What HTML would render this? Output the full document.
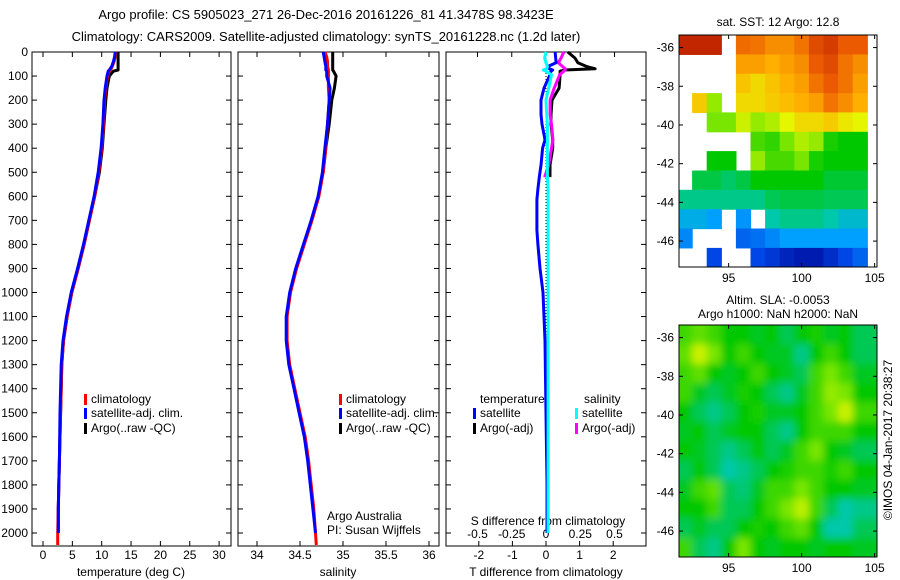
<!DOCTYPE html>
<html><head><meta charset="utf-8"><style>
body{margin:0;background:#fff}
svg{display:block;font-family:"Liberation Sans",sans-serif;font-size:12px}
</style></head><body>
<svg id="c" width="900" height="580" viewBox="0 0 900 580">
<text x="326" y="19" text-anchor="middle" font-size="13">Argo profile: CS 5905023_271 26-Dec-2016 20161226_81 41.3478S 98.3423E</text>
<text x="326" y="41" text-anchor="middle" font-size="13">Climatology: CARS2009. Satellite-adjusted climatology: synTS_20161228.nc (1.2d later)</text>
<g id="g"></g>
</svg>
<script>
// ---- profile data ----
const depths=[0,20,40,60,75,80,100,150,200,300,400,500,600,700,800,900,1000,1100,1200,1300,1400,1500,1600,1700,1800,1900,2000,2050];
const tempClim=[12.4,12.3,12.1,11.8,11.5,11.3,11.0,10.7,10.5,10.3,10.0,9.5,8.8,7.9,7.0,6.0,4.9,4.1,3.5,3.2,3.1,3.0,2.9,2.8,2.7,2.6,2.5,2.5];
const tempSat=[12.3,12.2,12.0,11.7,11.3,11.1,10.9,10.6,10.4,10.2,9.9,9.4,8.7,7.8,6.9,5.9,4.8,4.0,3.4,3.1,3.0,2.9,2.85,2.8,2.7,2.6,2.6,null];
const tempArgo=[12.8,12.8,12.8,12.8,12.8,12.0,11.3,10.9,10.7,10.4,10.1,9.6,8.8,7.9,7.0,6.0,4.9,4.1,3.5,3.2,3.1,3.0,2.9,2.8,2.7,2.6,2.6,null];
const salClim=[34.79,34.81,34.82,34.82,34.83,34.83,34.83,34.83,34.84,34.82,34.8,34.77,34.72,34.64,34.55,34.46,34.39,34.35,34.35,34.38,34.44,34.5,34.56,34.6,34.63,34.66,34.68,34.69];
const salSat=[34.77,34.78,34.79,34.8,34.8,34.81,34.81,34.85,34.84,34.82,34.79,34.76,34.71,34.63,34.54,34.45,34.38,34.34,34.34,34.37,34.43,34.49,34.55,34.59,34.62,34.65,34.68,null];
const salArgo=[34.88,34.88,34.88,34.88,34.88,34.89,34.92,34.9,34.87,34.84,34.8,34.77,null,null,null,null,null,null,null,null,null,null,null,null,null,null,null,null];
const diffDepths=[0,25,45,60,70,75,80,95,150,200,260,300,365,400,470,520,570,614,740,800,900,1000,1200,1500,1800,2000];
const tDiffSat=[0.27,0.29,0.3,0.06,0.1,0.2,0.15,0.12,-0.06,-0.15,-0.15,-0.12,-0.03,-0.1,-0.15,-0.2,-0.24,-0.27,-0.27,-0.24,-0.18,-0.09,-0.03,0,0.03,0.03];
const sDiffSat=[0,-0.01,0,0.01,0.005,-0.02,0,0.04,0.02,0,0.005,0.01,0.01,0.01,0.01,0.01,0.015,0.015,0.015,0.015,0.015,0.015,0.015,0.015,0.015,0.015];
const tDiffArgo=[0.65,0.86,0.95,1.2,1.46,0.55,0.42,0.42,0.39,0.18,0.15,0.15,0.2,0.2,0.12,0.12,null,null,null,null,null,null,null,null,null,null];
const sDiffArgo=[0.13,0.11,0.09,0.12,0.14,0.14,0.13,0.1,0.06,0.03,0.03,0.04,0.05,0.04,0.02,-0.01,null,null,null,null,null,null,null,null,null,null];
const depthTicks=[0,100,200,300,400,500,600,700,800,900,1000,1100,1200,1300,1400,1500,1600,1700,1800,1900,2000];
const tempTicks=[0,5,10,15,20,25,30];
const salTicks=[34,34.5,35,35.5,36];
const tDiffTicks=[-2,-1,0,1,2];
const sDiffTicks=[-0.5,-0.25,0,0.25,0.5];
const sDiffTickLabels=["-0.5","-0.25","0","0.25","0.5"];
// ---- map data (normalised colour values, null = missing) ----
const latTicks=[-36,-38,-40,-42,-44,-46];
const lonTicks=[95,100,105];
const sstGrid=[
[0.95,0.95,0.95,null,0.86,0.85,0.82,0.82,0.85,0.9,0.92,0.88,0.88],
[null,null,null,null,0.8,0.8,0.78,0.8,0.82,0.88,0.9,0.85,0.82],
[null,null,null,null,0.75,0.72,0.75,0.78,0.8,0.85,0.88,0.85,0.8],
[null,0.74,0.62,null,0.72,0.72,0.74,0.76,0.78,0.8,0.85,0.82,0.78],
[null,null,0.6,0.6,0.66,0.62,0.64,0.68,0.72,0.72,0.74,0.7,0.68],
[null,null,null,null,null,0.56,0.54,0.6,0.64,0.62,0.52,0.5,0.5],
[null,null,0.5,0.5,null,0.62,0.56,0.56,0.6,0.52,0.5,0.5,0.5],
[null,0.46,0.46,0.44,0.46,0.5,0.5,0.5,0.5,0.5,0.47,0.47,0.47],
[0.42,0.42,0.42,0.42,0.42,0.42,0.45,0.46,0.46,0.46,0.45,0.45,0.45],
[0.33,0.33,0.3,null,0.28,null,0.4,0.42,0.42,0.42,0.4,0.36,0.36],
[0.26,null,null,null,0.2,0.22,0.26,0.3,0.3,0.3,0.3,0.3,0.3],
[null,null,0.15,null,null,0.15,0.12,0.08,0.06,0.06,0.1,0.15,0.2]];
const slaGrid=[
[.55,.58,.55,.5,.5,.48,.5,.45,.5,.52,.48,.5,.45],
[.58,.66,.6,.5,.55,.5,.48,.48,.42,.5,.55,.5,.45],
[.55,.58,.5,.48,.5,.55,.5,.48,.45,.55,.6,.55,.48],
[.55,.48,.45,.48,.52,.5,.45,.42,.48,.55,.62,.6,.5],
[.5,.45,.42,.45,.5,.52,.48,.48,.5,.55,.6,.66,.55],
[.48,.5,.45,.48,.5,.5,.45,.42,.5,.55,.55,.55,.5],
[.5,.48,.45,.42,.45,.5,.45,.48,.55,.6,.5,.48,.45],
[.45,.5,.45,.4,.42,.45,.5,.52,.55,.55,.52,.55,.5],
[.48,.55,.58,.45,.43,.48,.55,.55,.6,.55,.5,.5,.48],
[.5,.5,.55,.45,.45,.5,.55,.6,.65,.55,.45,.4,.42],
[.45,.48,.45,.45,.5,.52,.5,.55,.58,.5,.4,.4,.45],
[.55,.45,.42,.5,.6,.5,.48,.5,.5,.48,.5,.5,.48]];

const NS='http://www.w3.org/2000/svg';
const G=document.getElementById('g');
function mk(tag,attrs,parent){const e=document.createElementNS(NS,tag);for(const k in attrs)e.setAttribute(k,attrs[k]);(parent||G).appendChild(e);return e;}
function txt(x,y,s,anchor,parent){const t=mk('text',{x:x,y:y,'text-anchor':anchor||'start'},parent);t.textContent=s;return t;}
const yD=d=>52+d*0.2405;
const PY0=52,PY1=546;
const panels=[{x0:32,x1:231},{x0:238,x1:439},{x0:446,x1:646}];
const xT=v=>43+v*5.87;
const xS=v=>257+(v-34)*86;
const xTd=v=>546+v*33.6;
const xSd=v=>546+v*137;

panels.forEach((p,i)=>{
  const r=mk('rect',{x:p.x0,y:PY0,width:p.x1-p.x0,height:PY1-PY0,fill:'none',stroke:'#000','stroke-width':1});
  
  
  depthTicks.forEach(d=>{mk('line',{x1:p.x0,x2:p.x0+5,y1:yD(d),y2:yD(d),stroke:'#000'});mk('line',{x1:p.x1,x2:p.x1-5,y1:yD(d),y2:yD(d),stroke:'#000'});});
});
depthTicks.forEach(d=>{const t=txt(28,yD(d)+4,String(d),'end');
  
  });
function xticks(vals,labels,fx,yb,top,labelY){vals.forEach((v,i)=>{const x=fx(v);
  mk('line',{x1:x,x2:x,y1:yb,y2:yb-5,stroke:'#000'});
  if(top)mk('line',{x1:x,x2:x,y1:PY0,y2:PY0+5,stroke:'#000'});
  const t=txt(x,labelY,labels[i],'middle');
  
  });}
xticks(tempTicks,tempTicks.map(String),xT,PY1,true,559);
xticks(salTicks,salTicks.map(String),xS,PY1,true,559);
xticks(tDiffTicks,tDiffTicks.map(String),xTd,PY1,false,559);
sDiffTicks.forEach((v,i)=>{const x=xSd(v);mk('line',{x1:x,x2:x,y1:PY0,y2:PY0+5,stroke:'#000'});
  const t=txt(x,538,sDiffTickLabels[i],'middle');
  
  });
[['temperature (deg C)',131],['salinity',338],['T difference from climatology',546]].forEach(a=>{const t=txt(a[1],576,a[0],'middle');
  
  });
const st=txt(548,525,'S difference from climatology','middle');


mk('line',{x1:546,x2:546,y1:PY0,y2:yD(2000),stroke:'#000','stroke-dasharray':'1 2'});

function series(vals,ys,fx,color,name,w){let d='',pen=false;
  vals.forEach((v,i)=>{if(v===null){pen=false;return;}d+=(pen?'L':'M')+fx(v).toFixed(1)+' '+yD(ys[i]).toFixed(1);pen=true;});
  const p=mk('path',{d:d,fill:'none',stroke:color,'stroke-width':w||3,'stroke-linejoin':'round'});
  
  }
series(tempArgo,depths,xT,'#000','temp-argo-line');
series(tempClim,depths,xT,'#f00','temp-climatology-line');
series(tempSat,depths,xT,'#00f','temp-satellite-line');
series(salArgo,depths,xS,'#000','sal-argo-line');
series(salClim,depths,xS,'#f00','sal-climatology-line');
series(salSat,depths,xS,'#00f','sal-satellite-line');
series(tDiffArgo,diffDepths,xTd,'#000','t-diff-argo-line');
series(sDiffArgo,diffDepths,xSd,'#f0f','s-diff-argo-line');
series(tDiffSat,diffDepths,xTd,'#00f','t-diff-satellite-line');
series(sDiffSat,diffDepths,xSd,'#0ff','s-diff-satellite-line');

function legend(x,y,color,label){mk('rect',{x:x,y:y-9,width:3,height:11,fill:color});
  const t=txt(x+7,y,label);
  
  }
[[84,'#f00','climatology',403],[84,'#00f','satellite-adj. clim.',417],[84,'#000','Argo(..raw -QC)',432],
 [339,'#f00','climatology',403],[339,'#00f','satellite-adj. clim.',417],[339,'#000','Argo(..raw -QC)',432],
 [473,'#00f','satellite',417],[473,'#000','Argo(-adj)',432],[575,'#0ff','satellite',417],[575,'#f0f','Argo(-adj)',432]]
 .forEach(a=>legend(a[0],a[3],a[1],a[2]));
[['temperature',480,403],['salinity',584,403],['Argo Australia',327,520],['PI: Susan Wijffels',327,534]].forEach(a=>{const t=txt(a[1],a[2],a[0]);
  
  });

// ---- maps ----
const cmapStops=[[0,[0,0,140]],[0.15,[0,70,230]],[0.3,[0,160,255]],[0.4,[0,200,170]],[0.5,[0,200,0]],[0.6,[120,230,0]],[0.68,[230,245,0]],[0.78,[255,175,0]],[0.88,[235,90,0]],[1,[165,0,0]]];
function cmap(v){for(let i=1;i<cmapStops.length;i++){const a=cmapStops[i-1],b=cmapStops[i];
  if(v<=b[0]){const t=(v-a[0])/(b[0]-a[0]);return 'rgb('+a[1].map((c,k)=>Math.round(c+(b[1][k]-c)*t)).join(',')+')';}}
  return 'rgb(165,0,0)';}
const MX0=679,MX1=877,LON0=91.6,PXLON=14.6,PXLAT=19.35;
function drawMap(grid,y0,name,blur,title1,title2){
  const latTop=-35.35;
  const yL=lat=>y0+(latTop-lat)*PXLAT;
  const xL=lon=>MX0+(lon-LON0)*PXLON;
  const y1=y0+232;
  const cid='clip'+name;
  const cp=mk('clipPath',{id:cid});mk('rect',{x:MX0,y:y0,width:MX1-MX0,height:y1-y0},cp);
  const g=mk('g',{'clip-path':'url(#'+cid+')'});
  
  
  const inner=mk('g',blur?{filter:'url(#blur)'}:{},g);
  if(blur)mk('rect',{x:MX0-20,y:y0-20,width:MX1-MX0+40,height:y1-y0+40,fill:cmap(0.5)},inner);
  grid.forEach((row,ri)=>row.forEach((v,ci)=>{if(v===null)return;
    let x=xL(91.5+ci),y=yL(latTop-ri),w=PXLON+0.6,h=PXLAT+0.6;
    if(blur){if(ci===0){x-=15;w+=15;}if(ci===row.length-1)w+=15;if(ri===0){y-=15;h+=15;}if(ri===grid.length-1)h+=15;}
    mk('rect',{x:x.toFixed(1),y:y.toFixed(1),width:w,height:h,fill:cmap(v)},inner);}));
  mk('rect',{x:MX0,y:y0,width:MX1-MX0,height:y1-y0,fill:'none',stroke:'#000'});
  latTicks.forEach(l=>{const y=yL(l);mk('line',{x1:MX0,x2:MX0+4,y1:y,y2:y,stroke:'#000'});mk('line',{x1:MX1,x2:MX1-4,y1:y,y2:y,stroke:'#000'});
    const t=txt(MX0-5,y+4,String(l),'end');
    
    });
  lonTicks.forEach(l=>{const x=xL(l);mk('line',{x1:x,x2:x,y1:y1,y2:y1-4,stroke:'#000'});mk('line',{x1:x,x2:x,y1:y0,y2:y0+4,stroke:'#000'});
    const t=txt(x,y1+15,String(l),'middle');
    
    });
  const t1=txt(778,title2?y0-21:y0-9,title1,'middle');
  
  
  if(title2){const t2=txt(778,y0-7,title2,'middle');
    
    }
}
const defs=mk('defs',{});const f=mk('filter',{id:'blur',x:'-5%',y:'-5%',width:'110%',height:'110%'},defs);mk('feGaussianBlur',{stdDeviation:4},f);
drawMap(sstGrid,35,'sst-map',false,'sat. SST: 12 Argo: 12.8');
drawMap(slaGrid,325,'sla-map',true,'Altim. SLA: -0.0053','Argo h1000: NaN h2000: NaN');
const cr=txt(0,0,'©IMOS 04-Jan-2017 20:38:27','middle');
cr.setAttribute('transform','translate(892,440) rotate(-90)');


</script>
</body></html>
